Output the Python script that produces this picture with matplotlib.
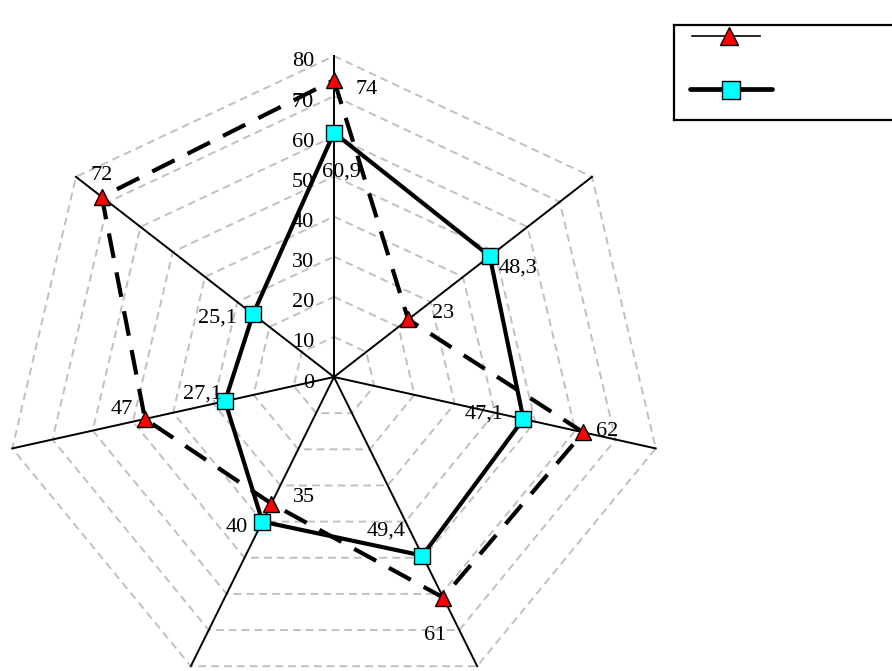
import numpy as np
import matplotlib.pyplot as plt

plt.rcParams["font.family"] = ["Liberation Serif", "DejaVu Serif"]

# values read clockwise from the top spoke
series_a = [74, 23, 62, 61, 35, 47, 72]
series_b = [60.9, 48.3, 47.1, 49.4, 40, 27.1, 25.1]
labels_a = ["74", "23", "62", "61", "35", "47", "72"]
labels_b = ["60,9", "48,3", "47,1", "49,4", "40", "27,1", "25,1"]
r_ticks = [0, 10, 20, 30, 40, 50, 60, 70, 80]
r_max = 80

# label offsets in pixels (right, down) from each marker
offs_a = [(33, 7), (35, -8), (24, -3), (-8, 36), (33, -8), (-23, -11), (0, -23)]
offs_b = [(7, 37), (28, 10), (-39, -7), (-36, -27), (-26, 4), (-23, -9), (-36, 2)]

W, H = 892, 671
fig = plt.figure(figsize=(W / 100, H / 100), dpi=100)

cx, cy, rx, ry = 334, 377, 330, 321
ax = fig.add_axes(
    [(cx - rx) / W, (H - cy - ry) / H, 2 * rx / W, 2 * ry / H], projection="polar"
)
ax.set_aspect("auto")
ax.set_theta_zero_location("N")
ax.set_theta_direction(-1)
ax.set_ylim(0, r_max)
ax.grid(False)
ax.set_xticks([])
ax.set_yticks([])
ax.spines["polar"].set_visible(False)
ax.patch.set_visible(False)

n = len(series_a)
theta = np.arange(n) * 2 * np.pi / n
theta_c = np.append(theta, theta[0])

# dashed heptagon rings
for v in r_ticks[1:]:
    ax.plot(theta_c, [v] * (n + 1), color="#c0c0c0", lw=1.4, dashes=(4, 2.6),
            clip_on=False, zorder=1)
# spokes
for t in theta:
    ax.plot([t, t], [0, r_max], color="black", lw=1.4, clip_on=False, zorder=2)

# radial tick labels along the top spoke
for v in r_ticks:
    ax.annotate(str(v), xy=(0, v), xytext=(-20, -6), textcoords="offset pixels",
                ha="right", va="center", fontsize=16, zorder=3)

a_c = series_a + series_a[:1]
b_c = series_b + series_b[:1]
ax.plot(theta_c, a_c, color="black", lw=3.0, dashes=(6, 3.5), clip_on=False, zorder=4)
ax.plot(theta, series_a, ls="none", marker="^", ms=11.5, mfc="#ff0000", mec="black",
        mew=1.0, clip_on=False, zorder=5)
ax.plot(theta_c, b_c, color="black", lw=3.0, clip_on=False, zorder=6)
ax.plot(theta, series_b, ls="none", marker="s", ms=12, mfc="#00ffff", mec="black",
        mew=1.0, clip_on=False, zorder=7)

for t, v, s, (dx, dy) in zip(theta, series_a, labels_a, offs_a):
    ax.annotate(s, xy=(t, v), xytext=(dx, -(dy + 2)), textcoords="offset pixels",
                ha="center", va="center", fontsize=16, zorder=8)
for t, v, s, (dx, dy) in zip(theta, series_b, labels_b, offs_b):
    ax.annotate(s, xy=(t, v), xytext=(dx, -(dy + 2)), textcoords="offset pixels",
                ha="center", va="center", fontsize=16, zorder=8)

# legend box (no entry text), open on the right edge
lx0, ly0, ly1 = 674, 25, 120
lax = fig.add_axes([lx0 / W, (H - ly1) / H, (W - lx0 + 10) / W, (ly1 - ly0) / H])
lax.set_xlim(lx0, W + 10)
lax.set_ylim(ly1, ly0)
lax.set_xticks([])
lax.set_yticks([])
for side in ["left", "top", "bottom"]:
    lax.spines[side].set_linewidth(1.6)
lax.spines["right"].set_visible(False)
lax.plot([692, 760], [36, 36], color="black", lw=1.2)
lax.plot([729], [36], ls="none", marker="^", ms=12.5, mfc="#ff0000", mec="black", mew=1.0)
lax.plot([690, 772], [89, 89], color="black", lw=3.4, solid_capstyle="round")
lax.plot([731], [90], ls="none", marker="s", ms=13, mfc="#00ffff", mec="black", mew=1.0)

fig.savefig("out.png", dpi=100)
